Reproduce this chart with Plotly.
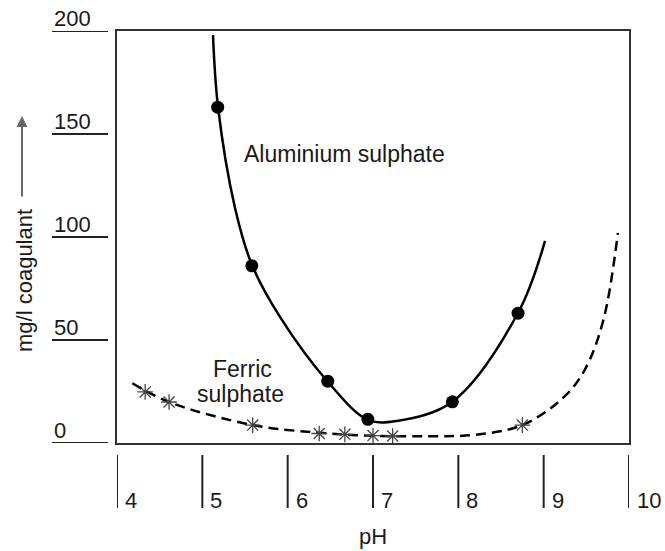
import plotly.graph_objects as go

alu_curve_ph = [5.125, 5.184, 5.383, 5.582, 5.910, 6.473, 6.941, 7.281, 7.926, 8.699, 9.016]
alu_curve_mg = [198.0, 163.1, 114.1, 86.4, 61.2, 29.6, 11.2, 10.7, 19.9, 63.1, 98.1]
alu_pts_ph = [5.18, 5.58, 6.47, 6.94, 7.93, 8.70]
alu_pts_mg = [163.0, 86.0, 30.0, 11.5, 20.0, 63.0]

# Ferric sulphate: dashed curve and asterisk points
fe_curve_ph = [4.18, 4.61, 5.59, 6.37, 7.00, 7.67, 8.20, 8.75, 9.23, 9.48, 9.70, 9.87]
fe_curve_mg = [29.0, 19.9, 8.7, 5.0, 3.5, 3.3, 4.0, 8.7, 22.0, 35.4, 59.7, 102.0]
fe_pts_ph = [4.33, 4.61, 5.59, 6.37, 6.67, 7.00, 7.23, 8.75]
fe_pts_mg = [24.8, 19.9, 8.7, 4.6, 4.2, 3.6, 3.4, 8.7]

x_ticks = [4, 5, 6, 7, 8, 9, 10]
y_ticks = [0, 50, 100, 150, 200]

FONT = "Liberation Sans, Arial, sans-serif"
FS = 22
TXT = "#1a1a1a"

fig = go.Figure()
fig.add_trace(go.Scatter(x=alu_curve_ph, y=alu_curve_mg, mode="lines",
                         line=dict(color="black", width=2.5, shape="spline", smoothing=1),
                         hoverinfo="skip", showlegend=False))
fig.add_trace(go.Scatter(x=alu_pts_ph, y=alu_pts_mg, mode="markers",
                         marker=dict(color="black", size=13), showlegend=False))
fig.add_trace(go.Scatter(x=fe_curve_ph, y=fe_curve_mg, mode="lines",
                         line=dict(color="black", width=2.5, dash="10px,6px", shape="spline", smoothing=1),
                         hoverinfo="skip", showlegend=False))
fig.add_trace(go.Scatter(x=fe_pts_ph, y=fe_pts_mg, mode="markers",
                         marker=dict(symbol="asterisk-open", size=13, color="#444",
                                     line=dict(color="#444", width=1.3)),
                         showlegend=False))

PL, PR, PT, PB = 117, 629, 31, 443   # plot box in page pixels
W, H = 665, 551
pw = PR - PL
ph = PB - PT

def px_x(p):
    return (p - PL) / pw

def px_y(p):
    return (PB - p) / ph

shapes = []
annotations = []
for v in y_ticks:
    shapes.append(dict(type="line", xref="paper", yref="y", x0=px_x(52), x1=px_x(108),
                       y0=v, y1=v, line=dict(color="#222", width=2)))
    annotations.append(dict(xref="paper", yref="y", x=px_x(52), y=v, text=str(v),
                            xanchor="left", yanchor="middle", yshift=13, showarrow=False,
                            font=dict(family=FONT, size=FS, color=TXT)))
for v in x_ticks:
    shapes.append(dict(type="line", xref="x", yref="paper", x0=v, x1=v,
                       y0=px_y(455), y1=px_y(508), line=dict(color="#222", width=2)))
    annotations.append(dict(xref="x", yref="paper", x=v, y=px_y(500.4), text=str(v),
                            xanchor="left", yanchor="middle", xshift=6, showarrow=False,
                            font=dict(family=FONT, size=FS, color=TXT)))

annotations.append(dict(xref="x", yref="paper", x=7, y=px_y(536.4), text="pH",
                        xanchor="center", yanchor="middle", showarrow=False,
                        font=dict(family=FONT, size=FS, color=TXT)))
annotations.append(dict(xref="paper", yref="paper", x=px_x(24), y=px_y(281), text="mg/l coagulant",
                        textangle=-90, xanchor="center", yanchor="middle", showarrow=False,
                        font=dict(family=FONT, size=FS, color=TXT)))
annotations.append(dict(xref="paper", yref="paper", x=px_x(22), y=px_y(116), text="",
                        showarrow=True, ax=0, ay=82, arrowhead=2, arrowsize=1.1,
                        arrowwidth=2, arrowcolor="#666"))
annotations.append(dict(xref="x", yref="y", x=5.465, y=140.1, text="Aluminium sulphate",
                        xanchor="left", yanchor="middle", showarrow=False,
                        font=dict(family=FONT, size=23, color=TXT)))
annotations.append(dict(xref="x", yref="y", x=5.465, y=35.9, text="Ferric",
                        xanchor="center", yanchor="middle", showarrow=False,
                        font=dict(family=FONT, size=23, color=TXT)))
annotations.append(dict(xref="x", yref="y", x=5.447, y=23.8, text="sulphate",
                        xanchor="center", yanchor="middle", showarrow=False,
                        font=dict(family=FONT, size=23, color=TXT)))

fig.update_layout(
    width=W, height=H,
    margin=dict(l=PL, r=W - PR, t=PT, b=H - PB, pad=0),
    paper_bgcolor="white", plot_bgcolor="white",
    xaxis=dict(range=[4, 10], showgrid=False, zeroline=False, showticklabels=False, ticks="",
               showline=True, mirror=True, linecolor="#333", linewidth=2),
    yaxis=dict(range=[0, 200], showgrid=False, zeroline=False, showticklabels=False, ticks="",
               showline=True, mirror=True, linecolor="#333", linewidth=2),
    shapes=shapes, annotations=annotations,
    showlegend=False,
)

fig.write_html("out.html", config={"displayModeBar": False},
               post_script="document.body.style.margin='0';document.body.style.overflow='hidden';")
